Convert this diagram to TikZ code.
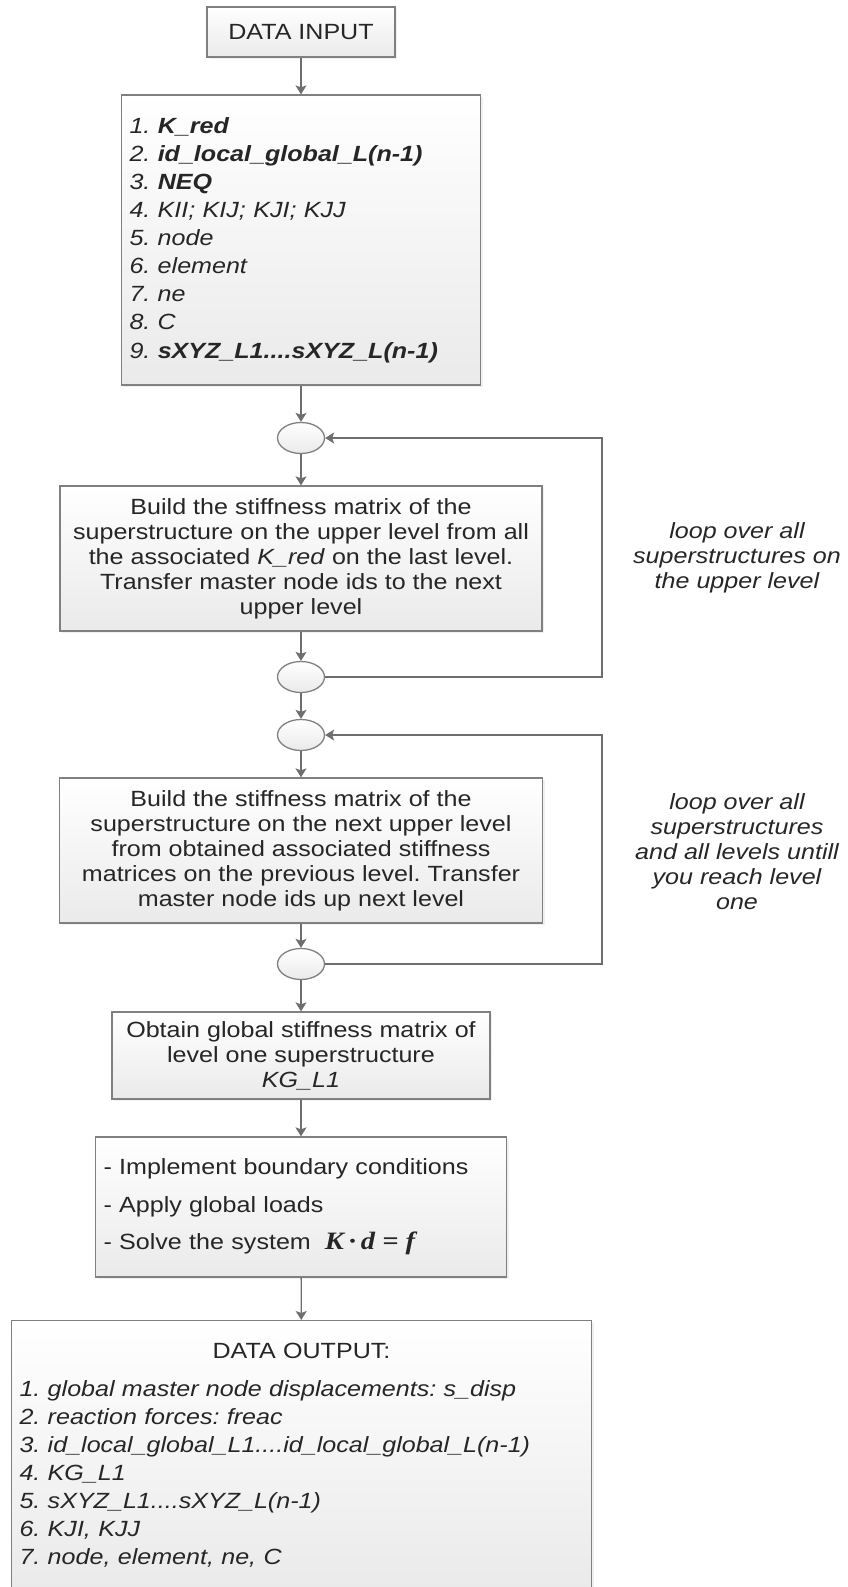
\documentclass[tikz,border=0pt]{standalone}
\usepackage{fontspec}
\setmainfont[FakeStretch=1.14]{Liberation Sans}
\newfontfamily\eqfont[FakeStretch=1.14]{Liberation Serif}
\frenchspacing
\usetikzlibrary{shapes.geometric, arrows.meta, shadows}
\definecolor{framegray}{HTML}{808080}
\definecolor{linegray}{HTML}{6E6E6E}
\definecolor{fillgray}{HTML}{EAEAEA}
\definecolor{txtgray}{HTML}{262626}
\tikzstyle{box} = [rectangle, draw=framegray, line width=1.3pt, top color=white, bottom color=fillgray, text=txtgray, inner sep=8pt, font=\fontsize{22}{25}\selectfont, drop shadow={opacity=0.12, shadow xshift=2pt, shadow yshift=-2pt}]
\tikzstyle{joint} = [ellipse, draw=framegray, line width=1.3pt, top color=white, bottom color=fillgray, minimum width=47pt, minimum height=31pt, inner sep=0pt]
\tikzstyle{arrow} = [line width=1.3pt, draw=linegray, -{Stealth[length=9pt, width=11pt, inset=2pt]}]
\tikzstyle{note} = [align=center, text=txtgray, font=\fontsize{22}{25}\selectfont\itshape]

\begin{document}
\begin{tikzpicture}[x=1pt, y=-1pt]
        \useasboundingbox (0,0) rectangle (847,1587);

        \node at (301,32) [box, minimum width=188pt, minimum height=50pt](datain) {DATA INPUT};
        \node at (301,240) [box, minimum height=290pt, text width=343pt, align=left, font=\fontsize{22}{28.1}\selectfont\itshape](input) {1. \textbf{K\_red}\\ 2. \textbf{id\_local\_global\_L(n-1)}\\ 3. \textbf{NEQ}\\ 4. KII; KIJ; KJI; KJJ\\ 5. node\\ 6. element\\ 7. ne\\ 8. C\\ 9. \textbf{sXYZ\_L1....sXYZ\_L(n-1)}};
        \node at (301,438) [joint](c1) {};
        \node at (301,558.5) [box, minimum width=482pt, minimum height=145pt, align=center](build1) {Build the stiffness matrix of the\\ superstructure on the upper level from all\\ the associated \textit{K\_red} on the last level.\\ Transfer master node ids to the next\\ upper level};
        \node at (301,677) [joint](c2) {};
        \node at (301,735) [joint](c3) {};
        \node at (301,850.5) [box, minimum width=483pt, minimum height=145pt, align=center](build2) {Build the stiffness matrix of the\\ superstructure on the next upper level\\ from obtained associated stiffness\\ matrices on the previous level. Transfer\\ master node ids up next level};
        \node at (301,964) [joint](c4) {};
        \node at (301,1055.5) [box, minimum width=378pt, minimum height=87pt, align=center](obtain) {Obtain global stiffness matrix of\\ level one superstructure\\ \textit{KG\_L1}};
        \node at (301,1207) [box, minimum height=140pt, text width=395pt, align=left, font=\fontsize{22}{37.5}\selectfont](solve) {- Implement boundary conditions\\ - Apply global loads\\ - Solve the system\hspace{14pt}{\eqfont\bfseries\itshape\fontsize{25}{25}\selectfont K\hspace{5pt}·\hspace{5pt}d\hspace{7pt}=\hspace{7pt}f}};
        \node at (301.5,1320) [box, anchor=north, text width=564pt, inner ysep=22pt, align=left, font=\fontsize{22}{28}\selectfont\itshape](output) {\makebox[\hsize]{\upshape DATA OUTPUT:}\\[10pt] 1. global master node displacements: s\_disp\\ 2. reaction forces: freac\\ 3. id\_local\_global\_L1....id\_local\_global\_L(n-1)\\ 4. KG\_L1\\ 5. sXYZ\_L1....sXYZ\_L(n-1)\\ 6. KJI, KJJ\\ 7. node, element, ne, C};

        \node at (737,558) [note](note1) {loop over all\\ superstructures on\\ the upper level};
        \node at (737,852) [note](note2) {loop over all\\ superstructures\\ and all levels untill\\ you reach level\\ one};

        \coordinate (back1) at (602,677);
        \coordinate (back2) at (602,964);

        \draw[arrow] (datain) -- (input);
        \draw[arrow] (input) -- (c1);
        \draw[arrow] (c1) -- (build1);
        \draw[arrow] (build1) -- (c2);
        \draw[arrow] (c2) -- (c3);
        \draw[arrow] (c3) -- (build2);
        \draw[arrow] (build2) -- (c4);
        \draw[arrow] (c4) -- (obtain);
        \draw[arrow] (obtain) -- (solve);
        \draw[arrow] (solve) -- (output);
        \draw[arrow] (c2.east) -- (back1) |- (c1.east);
        \draw[arrow] (c4.east) -- (back2) |- (c3.east);

    \end{tikzpicture}
\end{document}
